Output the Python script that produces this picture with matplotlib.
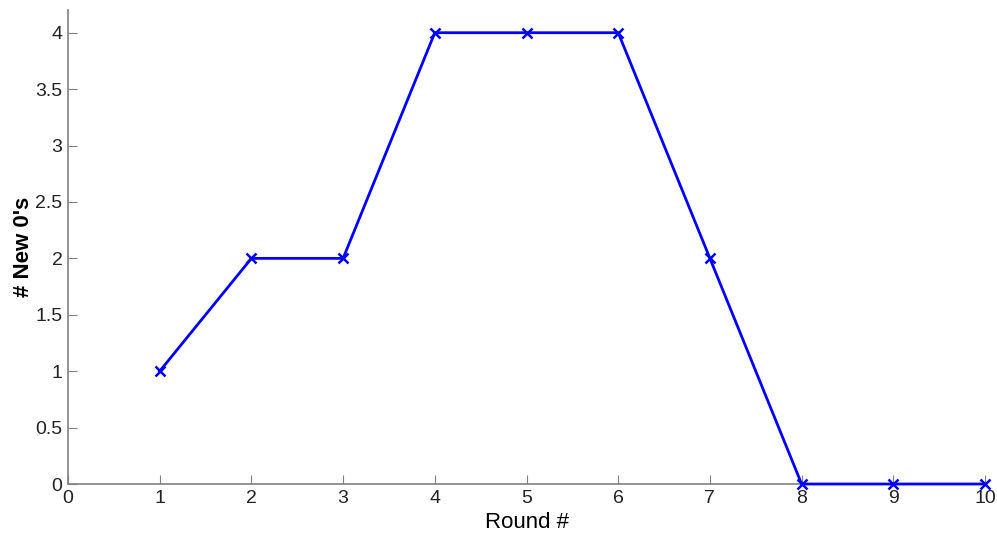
import matplotlib.pyplot as plt

plt.rcParams['font.family'] = ['Liberation Sans', 'DejaVu Sans']

rounds = [1, 2, 3, 4, 5, 6, 7, 8, 9, 10]
new_zeros = [1, 2, 2, 4, 4, 4, 2, 0, 0, 0]

fig = plt.figure(figsize=(9.97, 5.34), dpi=100)
ax = fig.add_axes([0.0682, 0.0936, 0.9198, 0.8874])

ax.plot(rounds, new_zeros, color='#0000ff', linewidth=2, marker='x',
        markersize=7, markeredgewidth=1.8, clip_on=False, zorder=3)

ax.set_xlim(0, 10)
ax.set_ylim(0, 4.2)
ax.set_xticks(range(0, 11))
ax.set_yticks([0, 0.5, 1, 1.5, 2, 2.5, 3, 3.5, 4])
ax.set_yticklabels(['0', '0.5', '1', '1.5', '2', '2.5', '3', '3.5', '4'])

for side in ['top', 'right']:
    ax.spines[side].set_visible(False)
for side in ['left', 'bottom']:
    ax.spines[side].set_color('#808080')
    ax.spines[side].set_linewidth(1.2)

ax.tick_params(direction='in', length=6.5, color='#808080', labelsize=14,
               labelcolor='#222222', pad=4)
ax.set_xlabel('Round #', fontsize=16, labelpad=4)
ax.set_ylabel("# New 0's", fontsize=16, fontweight='bold', labelpad=1)

fig.savefig('out.png', dpi=100)
